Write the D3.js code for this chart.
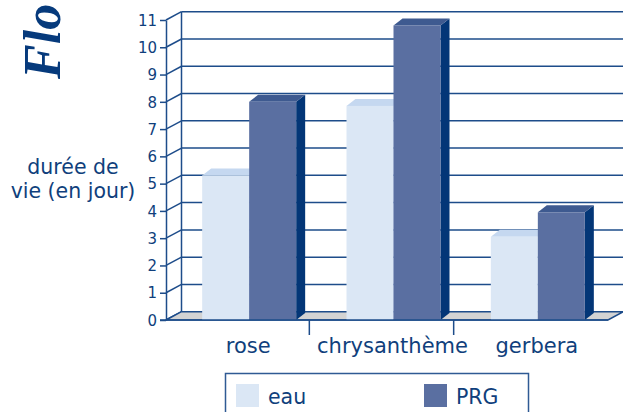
<!DOCTYPE html>
<html><head><meta charset="utf-8">
<script src="https://cdn.jsdelivr.net/npm/d3@7"></script>
<style>body{margin:0;background:#fff}svg{display:block}</style>
</head><body><svg id="c" width="623" height="412"></svg>
<script>
const categories = ["rose", "chrysanthème", "gerbera"];
const seriesNames = ["eau", "PRG"];
const eauValues = [5.3, 7.85, 3.05];
const prgValues = [8.0, 10.8, 3.95];
const yTicks = [0,1,2,3,4,5,6,7,8,9,10,11];
const yLabel = ["durée de", "vie (en jour)"];
const title = "Flo";

const FONT = "'DejaVu Sans', Verdana, sans-serif";
const TXT = "#103f7c";
const svg = d3.select("#c");
const X0 = 166, XR = 608, Y0 = 320, YT = 20;
const DX = 15.5, DY = -8.3;   // wall depth
const BDX = 9, BDY = -7;      // bar depth
const y = d3.scaleLinear().domain([0, 11]).range([Y0, YT]);
const x = d3.scaleBand().domain(categories).range([177, 610]);
const sx = d3.scaleBand().domain(seriesNames).range([0, 94]);
const lineC = "#1d4c8a";

svg.append("g").selectAll("line").data(yTicks.filter(d => d > 0)).join("line")
  .attr("x1", X0 + DX).attr("x2", 623).attr("y1", d => y(d) + DY).attr("y2", d => y(d) + DY)
  .attr("stroke", lineC).attr("stroke-width", 1.5);
svg.append("line").attr("x1", X0 + DX).attr("x2", X0 + DX).attr("y1", y(11) + DY).attr("y2", Y0 + DY)
  .attr("stroke", lineC).attr("stroke-width", 1.5);
svg.append("g").selectAll("line").data(yTicks).join("line")
  .attr("x1", X0).attr("y1", d => y(d)).attr("x2", X0 + DX).attr("y2", d => y(d) + DY)
  .attr("stroke", lineC).attr("stroke-width", 1.5);
svg.append("polygon")
  .attr("points", [[X0, Y0], [XR, Y0], [XR + DX, Y0 + DY], [X0 + DX, Y0 + DY]].map(p => p.join(",")).join(" "))
  .attr("fill", "#d3d3d3").attr("stroke", lineC).attr("stroke-width", 1.5);

const colors = {
  eau: {front: "#dbe7f5", top: "#c5d8f0", side: "#a9c2e4"},
  PRG: {front: "#5a6fa1", top: "#3e5a90", side: "#033677"}
};
const data = [];
categories.forEach((c, i) => {
  data.push({cat: c, s: "eau", v: eauValues[i]});
  data.push({cat: c, s: "PRG", v: prgValues[i]});
});
const bw = sx.bandwidth();
svg.append("g").selectAll("g").data(data).join("g").each(function(d) {
  const g = d3.select(this);
  const x0 = x(d.cat) + x.bandwidth() / 2 - 47 + sx(d.s);
  const yv = y(d.v);
  const col = colors[d.s];
  g.append("polygon").attr("points", [[x0 + bw, yv], [x0 + bw + BDX, yv + BDY], [x0 + bw + BDX, Y0 + BDY], [x0 + bw, Y0]].map(p => p.join(",")).join(" "))
    .attr("fill", col.side);
  g.append("polygon").attr("points", [[x0, yv], [x0 + BDX, yv + BDY], [x0 + bw + BDX, yv + BDY], [x0 + bw, yv]].map(p => p.join(",")).join(" "))
    .attr("fill", col.top);
  g.append("rect").attr("x", x0).attr("y", yv).attr("width", bw).attr("height", Y0 - yv).attr("fill", col.front);
});

const ax = svg.append("g").attr("transform", `translate(${X0},0)`)
  .call(d3.axisLeft(y).tickValues(yTicks).tickSize(6).tickSizeOuter(0).tickPadding(3));
ax.select(".domain").attr("stroke", lineC).attr("stroke-width", 1.5);
ax.selectAll(".tick line").attr("stroke", lineC).attr("stroke-width", 1.5);
ax.selectAll(".tick text").attr("font-size", 15).attr("fill", TXT).attr("font-family", FONT).attr("dy", "0.35em");

svg.append("line").attr("x1", X0 - 6).attr("x2", XR).attr("y1", Y0).attr("y2", Y0).attr("stroke", lineC).attr("stroke-width", 1.5);
svg.append("g").selectAll("line").data(categories.slice(1)).join("line")
  .attr("x1", d => x(d) - 12).attr("x2", d => x(d) - 12).attr("y1", Y0).attr("y2", Y0 + 15)
  .attr("stroke", lineC).attr("stroke-width", 1.5);
svg.append("g").selectAll("text").data(categories).join("text")
  .attr("x", d => x(d) + x.bandwidth() / 2 - 1).attr("y", 353).attr("text-anchor", "middle")
  .attr("font-family", FONT).attr("fill", TXT).attr("font-size", 21).text(d => d);

const yl = svg.append("text").attr("text-anchor", "middle")
  .attr("font-family", FONT).attr("fill", TXT).attr("font-size", 20.5);
yl.selectAll("tspan").data(yLabel).join("tspan")
  .attr("x", 73).attr("y", (d, i) => 174 + i * 24).text(d => d);

svg.append("text").attr("transform", "translate(60,79) rotate(-90)")
  .attr("font-family", "'Liberation Serif', 'DejaVu Serif', serif").attr("font-weight", "bold").attr("font-style", "italic")
  .attr("font-size", 52).attr("fill", "#063a7c").text(title);

svg.append("rect").attr("x", 225.5).attr("y", 373.5).attr("width", 303).attr("height", 60)
  .attr("fill", "none").attr("stroke", "#2f5a94").attr("stroke-width", 1.5);
const lg = svg.append("g").selectAll("g").data(seriesNames).join("g")
  .attr("transform", (d, i) => `translate(${236 + i * 188},384)`);
lg.append("rect").attr("width", 23).attr("height", 23).attr("fill", d => colors[d].front);
lg.append("text").attr("x", 32).attr("y", 20).attr("font-family", FONT).attr("fill", TXT).attr("font-size", 20.5).text(d => d);
</script></body></html>
